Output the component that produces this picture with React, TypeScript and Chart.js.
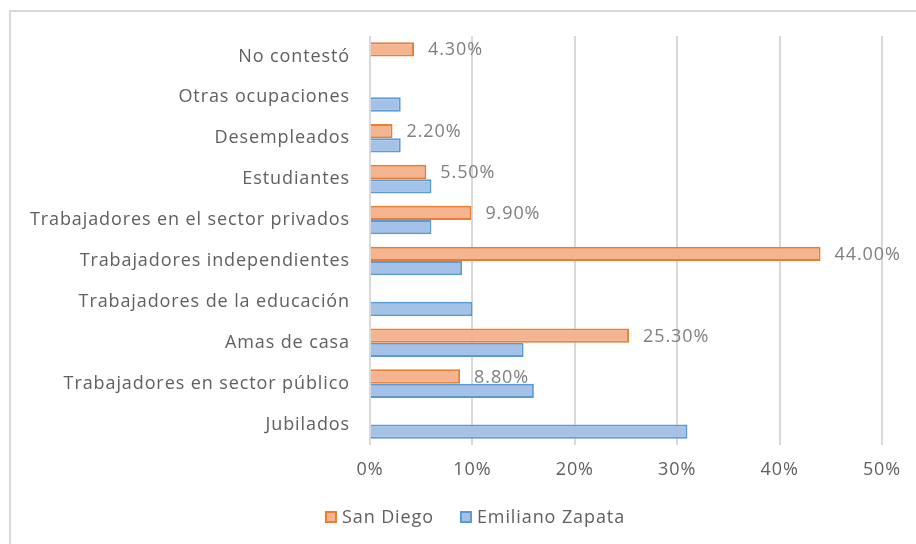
import React, { useEffect, useRef } from "react";
import { Chart, registerables } from "chart.js";

Chart.register(...registerables);

const categories = [
  "No contestó",
  "Otras ocupaciones",
  "Desempleados",
  "Estudiantes",
  "Trabajadores en el sector privados",
  "Trabajadores independientes",
  "Trabajadores de la educación",
  "Amas de casa",
  "Trabajadores en sector público",
  "Jubilados",
];
const sanDiego = [4.3, null, 2.2, 5.5, 9.9, 44.0, null, 25.3, 8.8, null];
const emilianoZapata = [null, 3.0, 3.0, 6.0, 6.0, 9.0, 10.0, 15.0, 16.0, 31.0];
const seriesNames = ["San Diego", "Emiliano Zapata"];
const xMax = 50;
const xStep = 10;

const FONT = "'Open Sans'";
const FS = 18;
const SPACING = "0.9px";
const TEXT = "#606060";
const GRID = "#d9d9d9";

const spacingPlugin = {
  id: "spacing",
  beforeUpdate(chart: any) {
    chart.ctx.letterSpacing = SPACING;
  },
  beforeDraw(chart: any) {
    chart.ctx.letterSpacing = SPACING;
  },
};

const framePlugin = {
  id: "frame",
  beforeDraw(chart: any) {
    const ctx = chart.ctx;
    ctx.save();
    ctx.fillStyle = "#ffffff";
    ctx.fillRect(0, 0, chart.width, chart.height);
    ctx.strokeStyle = GRID;
    ctx.lineWidth = 2;
    ctx.beginPath();
    ctx.moveTo(10, chart.height);
    ctx.lineTo(10, 11);
    ctx.lineTo(chart.width, 11);
    ctx.stroke();
    ctx.restore();
  },
};

const labelPlugin = {
  id: "valueLabels",
  afterDatasetsDraw(chart: any) {
    const ctx = chart.ctx;
    const meta = chart.getDatasetMeta(0);
    const data = chart.data.datasets[0].data;
    ctx.save();
    ctx.font = `${FS}px ${FONT}`;
    ctx.fillStyle = "#808080";
    ctx.textAlign = "left";
    ctx.textBaseline = "middle";
    meta.data.forEach((el: any, i: number) => {
      const v = data[i];
      if (v === null || v === undefined) return;
      ctx.fillText(v.toFixed(2) + "%", el.x + 14, el.y + 1);
    });
    ctx.restore();
  },
};

const legendPlugin = {
  id: "customLegend",
  afterDraw(chart: any) {
    const ctx = chart.ctx;
    ctx.save();
    ctx.font = `${FS}px ${FONT}`;
    const box = 12;
    const gap = 5;
    const itemGap = 26;
    const items = chart.data.datasets.map((ds: any) => ({
      label: ds.label,
      fill: ds.backgroundColor,
      stroke: ds.borderColor,
      w: ctx.measureText(ds.label).width,
    }));
    const total =
      items.reduce((s: number, it: any) => s + box + gap + it.w, 0) +
      itemGap * (items.length - 1);
    let x = 475 - total / 2;
    const y = 517;
    ctx.textBaseline = "middle";
    ctx.textAlign = "left";
    items.forEach((it: any) => {
      ctx.fillStyle = it.fill;
      ctx.fillRect(x, y - box / 2, box, box);
      ctx.strokeStyle = it.stroke;
      ctx.lineWidth = 2;
      ctx.strokeRect(x + 1, y - box / 2 + 1, box - 2, box - 2);
      ctx.fillStyle = TEXT;
      ctx.fillText(it.label, x + box + gap, y + 1);
      x += box + gap + it.w + itemGap;
    });
    ctx.restore();
  },
};

export default function App() {
  const ref = useRef<HTMLCanvasElement | null>(null);

  useEffect(() => {
    if (!ref.current) return;
    const chart = new Chart(ref.current, {
      type: "bar",
      data: {
        labels: categories,
        datasets: [
          {
            label: seriesNames[0],
            data: sanDiego as any,
            backgroundColor: "#F5B490",
            borderColor: "#ED7D31",
            borderWidth: 2,
            barPercentage: 1,
            categoryPercentage: 0.7,
          },
          {
            label: seriesNames[1],
            data: emilianoZapata as any,
            backgroundColor: "#A4C2E7",
            borderColor: "#5B9BD5",
            borderWidth: 2,
            barPercentage: 1,
            categoryPercentage: 0.7,
          },
        ],
      },
      options: {
        indexAxis: "y",
        animation: false,
        responsive: false,
        maintainAspectRatio: false,
        layout: { padding: { left: 10, top: 36, right: 34, bottom: 59 } },
        plugins: {
          legend: { display: false },
          tooltip: { enabled: false },
        },
        scales: {
          x: {
            min: 0,
            max: xMax,
            ticks: {
              stepSize: xStep,
              callback: (v: any) => v + "%",
              color: TEXT,
              font: { family: FONT, size: FS },
              padding: 14,
            },
            grid: { color: GRID, lineWidth: 2, drawTicks: false },
            border: { display: false },
            afterFit: (s: any) => {
              s.height = 40;
            },
          },
          y: {
            ticks: {
              color: TEXT,
              font: { family: FONT, size: FS },
              padding: 20,
              autoSkip: false,
            },
            grid: { display: false, drawTicks: false },
            border: { display: false },
            afterFit: (s: any) => {
              s.width = 360;
            },
          },
        },
      },
      plugins: [spacingPlugin, framePlugin, labelPlugin, legendPlugin],
    });
    return () => chart.destroy();
  }, []);

  return (
    <div style={{ position: "fixed", left: 0, top: 0, width: 916, height: 544 }}>
      <canvas ref={ref} width={916} height={544} style={{ display: "block" }} />
    </div>
  );
}
